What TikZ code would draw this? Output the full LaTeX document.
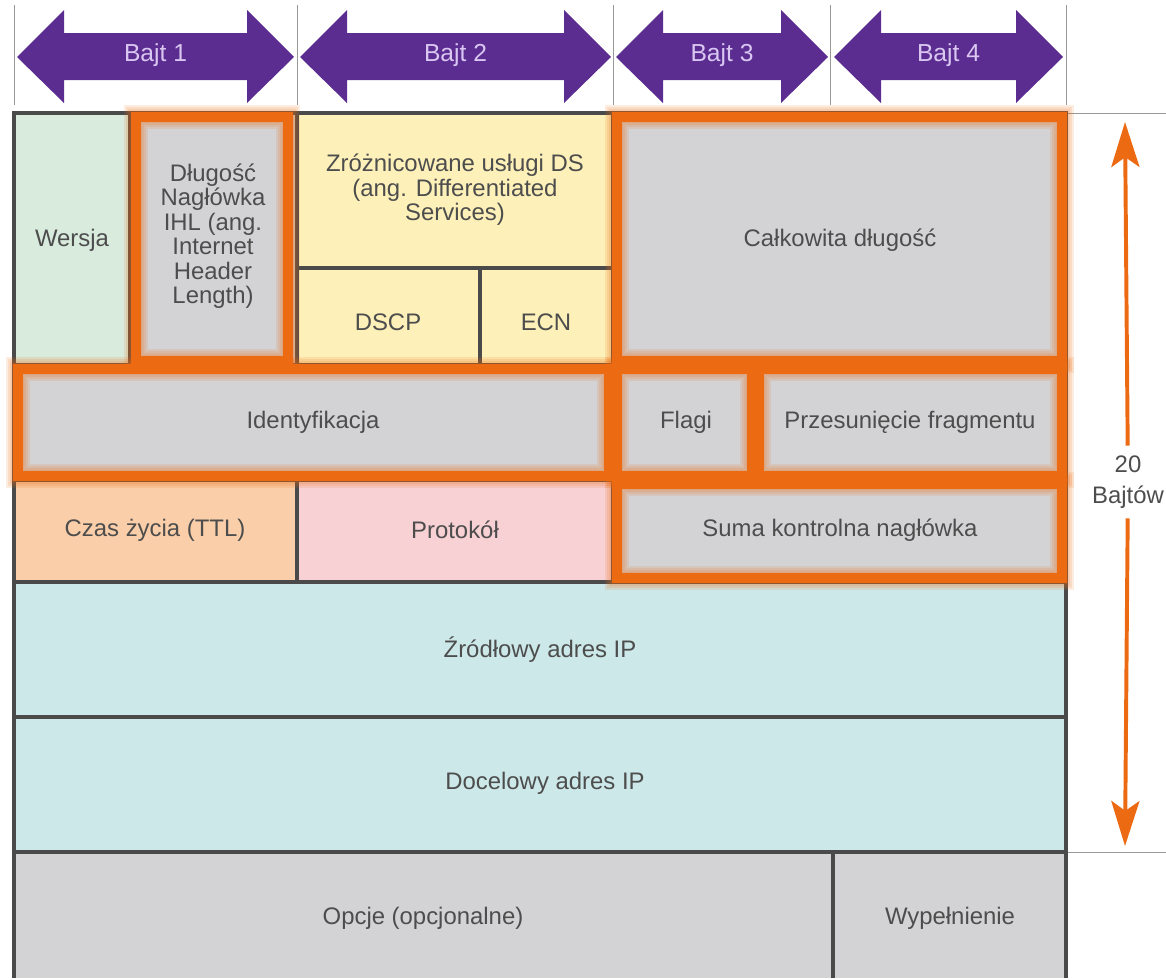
\documentclass[tikz,border=0pt]{standalone}
\usepackage{fontspec}
\setmainfont{Liberation Sans}
\usetikzlibrary{arrows.meta}

\definecolor{bajtfiol}{HTML}{5C2D91}
\definecolor{bajtjasny}{HTML}{D9C7F2}
\definecolor{pomar}{HTML}{EC6A12}
\definecolor{szary}{HTML}{D3D3D5}
\definecolor{zielony}{HTML}{D8EBDD}
\definecolor{zolty}{HTML}{FDF1B9}
\definecolor{losos}{HTML}{F9CEA8}
\definecolor{rozowy}{HTML}{F8D1D4}
\definecolor{turkus}{HTML}{CDE8E8}
\definecolor{tekst}{HTML}{4D4D4D}
\definecolor{linia}{HTML}{4A4A4A}

\tikzset{
  pole/.style={text=tekst, font=\fontsize{17}{17.4}\selectfont, align=center, inner sep=2pt},
  bajt/.style={fill=bajtfiol},
  bajttxt/.style={text=bajtjasny, font=\fontsize{17.5}{18}\selectfont},
  siatka/.style={draw=linia, line width=2.5pt},
  podzialka/.style={draw=black!40, line width=0.6pt},
  ramka/.style={draw=pomar, line width=6.5pt},
  poswiata/.style={draw=pomar, line width=#1, opacity=0.13},
}

\begin{document}
\begin{tikzpicture}[x=0.025cm, y=-0.025cm]
\useasboundingbox (0,0) rectangle (1166,980);

% podzialka bajtow
\foreach \x in {14,297,613,830,1066} {\draw[podzialka] (\x,5) -- (\x,105);}
\draw[podzialka] (1066,113) -- (1166,113);
\draw[podzialka] (1066,852) -- (1166,852);

\foreach \a/\b/\n in {17/294/1, 300/611/2, 616/828/3, 834/1063/4} {
  \fill[bajt] (\a,57) -- (\a+47,10) -- (\a+47,33) -- (\b-47,33) -- (\b-47,10) -- (\b,57)
    -- (\b-47,103) -- (\b-47,80) -- (\a+47,80) -- (\a+47,103) -- cycle;
  \node[bajttxt] (bajt\n) at ({(\a+\b)/2},55) {Bajt \n};
}

% wypelnienia pol
\fill[zielony] (14,113) rectangle (130,365);
\fill[szary] (130,113) rectangle (297,365);
\fill[zolty] (297,113) rectangle (613,365);
\fill[szary] (613,113) rectangle (1066,365);
\fill[szary] (14,365) rectangle (1066,480);
\fill[losos] (14,480) rectangle (297,582);
\fill[rozowy] (297,480) rectangle (613,582);
\fill[szary] (613,480) rectangle (1066,582);
\fill[turkus] (14,582) rectangle (1066,852);
\fill[szary] (14,852) rectangle (1066,978);

% siatka
\draw[siatka] (14,978) -- (14,113) -- (1066,113) -- (1066,978);
\foreach \y in {365,480,582,717,852} {\draw[siatka] (14,\y) -- (1066,\y);}
\draw[siatka] (130,113) -- (130,365);
\draw[siatka] (297,113) -- (297,365);
\draw[siatka] (613,113) -- (613,582);
\draw[siatka] (297,268) -- (613,268);
\draw[siatka] (480,268) -- (480,365);
\draw[siatka] (755,365) -- (755,480);
\draw[siatka] (297,480) -- (297,582);
\draw[siatka] (833,852) -- (833,978);

% wyroznione pola
\foreach \a/\b/\c/\d in {136/288/117/361, 617/1062/117/361, 18/609/369/476,
    617/752/369/476, 759/1062/369/476, 617/1062/484/578} {
  \foreach \w in {17pt,14pt,11pt,9pt} {\draw[poswiata=\w] (\a,\c) rectangle (\b,\d);}
  \draw[ramka] (\a,\c) rectangle (\b,\d);
}

% opisy pol
\node[pole] (wersja) at (72,240) {Wersja};
\node[pole] (ihl) at (213,236) {Długość\\Nagłówka\\IHL (ang.\\Internet\\Header\\Length)};
\node[pole] (ds) at (455,190) {Zróżnicowane usługi DS\\(ang. Differentiated\\Services)};
\node[pole] (dscp) at (388,322) {DSCP};
\node[pole] (ecn) at (546,322) {ECN};
\node[pole] (dlugosc) at (840,240) {Całkowita długość};
\node[pole] (ident) at (313,422) {Identyfikacja};
\node[pole] (flagi) at (686,422) {Flagi};
\node[pole] (offset) at (910,422) {Przesunięcie fragmentu};
\node[pole] (ttl) at (155,530) {Czas życia (TTL)};
\node[pole] (protokol) at (455,530) {Protokół};
\node[pole] (suma) at (840,530) {Suma kontrolna nagłówka};
\node[pole] (zrodlo) at (540,650) {Źródłowy adres IP};
\node[pole] (cel) at (545,783) {Docelowy adres IP};
\node[pole] (opcje) at (423,918) {Opcje (opcjonalne)};
\node[pole] (wypeln) at (950,918) {Wypełnienie};

% 20 bajtow
\coordinate (gora) at (1125,122);
\coordinate (dol) at (1125,846);
\node[pole, inner sep=7pt, font=\fontsize{17}{22}\selectfont] (bajty) at (1128,482) {20\\Bajtów};
\draw[draw=pomar, line width=2.8pt, -{Stealth[length=32pt,width=20pt,inset=7pt]}] (bajty) -- (gora);
\draw[draw=pomar, line width=2.8pt, -{Stealth[length=32pt,width=20pt,inset=7pt]}] (bajty) -- (dol);
\end{tikzpicture}
\end{document}
